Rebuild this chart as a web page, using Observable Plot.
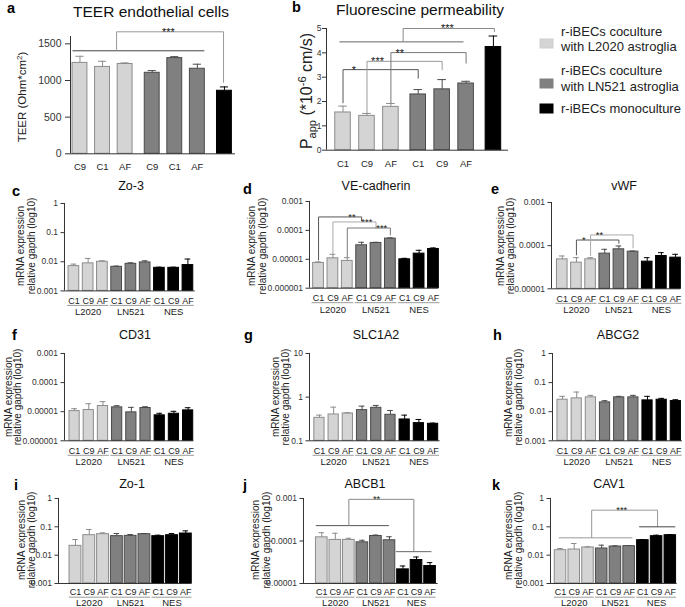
<!DOCTYPE html>
<html><head><meta charset="utf-8">
<script src="https://cdn.jsdelivr.net/npm/d3@7"></script>
<script src="https://cdn.jsdelivr.net/npm/@observablehq/plot@0.6"></script>
<style>
body{margin:0;background:#fff;}
#fig{position:relative;width:685px;height:607px;overflow:hidden;background:#fff;}
</style></head><body><div id="fig"></div>
<script>
// ---------- DATA ----------
// Panel a: TEER
const teerLabels = ["C9","C1","AF","C9","C1","AF",""];
const teerGroups = [0,0,0,1,1,1,2];
const teerMean = [1240,1185,1225,1105,1305,1160,860];
const teerSem  = [90,77,15,30,20,62,52];
// Panel b: permeability
const permLabels = ["C1","C9","AF","C1","C9","AF",""];
const permGroups = [0,0,0,1,1,1,2];
const permMean = [1.55,1.41,1.78,2.29,2.50,2.74,4.24];
const permSem  = [0.26,0.10,0.14,0.20,0.40,0.09,0.45];
// mRNA panels
const cellLines = ["C1","C9","AF"];
const conditions = ["L2020","LN521","NES"];
const zo3Mean = [0.0071,0.0088,0.0100,0.0067,0.0085,0.0095,0.0062,0.0062,0.0077];
const zo3Sem  = [0.0012,0.0042,0.0008,0.0004,0.0007,0.0013,0.0003,0.0003,0.0047];
const vecadMean = [7.5e-6,1.08e-5,8.8e-6,3.05e-5,3.67e-5,5.2e-5,1.0e-5,1.57e-5,2.28e-5];
const vecadSem  = [0.6e-6,4.1e-6,2.6e-6,8.2e-6,2.0e-6,3.0e-6,0.8e-6,4.8e-6,1.9e-6];
const vwfMean = [4.82e-5,4.04e-5,4.82e-5,6.53e-5,8.23e-5,7.26e-5,4.26e-5,5.76e-5,5.27e-5];
const vwfSem  = [9.4e-6,1.23e-5,4.5e-6,1.7e-5,1.57e-5,2.4e-6,1.01e-5,1.12e-5,1.03e-5];
const cd31Mean = [1.05e-5,1.14e-5,1.57e-5,1.41e-5,9.5e-6,1.34e-5,7.5e-6,8.5e-6,1.11e-5];
const cd31Sem  = [2.2e-6,7.4e-6,6.4e-6,2.0e-6,4.6e-6,1.4e-6,1.3e-6,1.8e-6,2.6e-6];
const slcMean = [0.336,0.401,0.423,0.504,0.57,0.394,0.308,0.254,0.245];
const slcSem  = [0.051,0.189,0.015,0.118,0.075,0.101,0.079,0.054,0.009];
const abcg2Mean = [0.0258,0.0287,0.0311,0.0209,0.0311,0.0311,0.0245,0.0258,0.0232];
const abcg2Sem  = [0.0079,0.0186,0.0053,0.0030,0.0026,0.0053,0.0092,0.0029,0.0026];
const zo1Mean = [0.0213,0.0507,0.055,0.0468,0.048,0.055,0.0468,0.0507,0.058];
const zo1Sem  = [0.0144,0.0299,0.0064,0.0112,0.0055,0.003,0.0039,0.0073,0.014];
const abcb1Mean = [1.22e-4,1.06e-4,1.06e-4,9.3e-5,1.31e-4,1.04e-4,2.15e-5,3.57e-5,2.58e-5];
const abcb1Sem  = [3.5e-5,4.6e-5,1.0e-5,1.1e-5,7e-6,2.2e-5,4.3e-6,6.3e-6,5.2e-6];
const cav1Mean = [0.015,0.0158,0.0187,0.0172,0.0202,0.0208,0.0338,0.0468,0.0507];
const cav1Sem  = [0.0022,0.01,0.001,0.0053,0.0011,0.0011,0.0019,0.0039,0.0028];
const legendLabels = [["r-iBECs coculture","with L2020 astroglia"],["r-iBECs coculture","with LN521 astroglia"],["r-iBECs monoculture"]];

// significance annotations (data units: bar position, value)
const permPairs = [
  {a:0,b:3.14,y:3.31,endA:1.93,endB:2.94,star:"*",starX:0.45,color:"#555"},
  {a:1,b:4.14,y:3.65,endA:1.52,endB:3.29,star:"***",starX:1.44,color:"#9a9a9a"},
  {a:2,b:5.14,y:4.01,endA:1.93,endB:3.56,star:"**",starX:2.37,color:"#777"}];
const vecadPairs = [
  {a:0,b:3,y:2.92e-4,endA:9.2e-6,endB:2.07e-4,star:"**",starX:2.32,color:"#555"},
  {a:1,b:4,y:1.96e-4,endA:1.57e-5,endB:1.15e-4,star:"***",starX:3.36,color:"#aaa"},
  {a:2,b:5,y:1.21e-4,endA:1.2e-5,endB:6.76e-5,star:"***",starX:4.4,color:"#777"}];
const vwfPairs = [
  {a:1,b:4,y:1.35e-4,endA:5.97e-5,endB:1.11e-4,star:"*",starX:1.53,color:"#555"},
  {a:2,b:5,y:1.77e-4,endA:5.76e-5,endB:8.67e-5,star:"**",starX:2.63,color:"#aaa"}];
const teerGroupSig = [{lineA:[-0.33,5.51,1405],legA:1.62,top:1664,legB:6.36,endB:969,star:"***",starX:3.92,colorA:"#444",color:"#999"}];
const permGroupSig = [{lineA:[-0.15,5.03,4.45],legA:2.51,top:5.0,legB:6.32,endB:4.86,star:"***",starX:4.36,colorA:"#666",color:"#888"}];
const abcb1GroupSig = [{lineA:[-0.44,4.96,2.3e-4],legA:2.0,top:9.55e-4,legB:6.8,lineB:[5.47,8.1,5.61e-5],star:"**",starX:4.05,colorA:"#555",color:"#888",colorB:"#666"}];
const cav1GroupSig = [{lineA:[-0.12,5.24,0.0409],legA:2.27,top:0.387,legB:7.07,lineB:[5.73,8.36,0.1],star:"***",starX:4.46,colorA:"#999",color:"#999",colorB:"#444"}];

// ---------- STYLE ----------
const FONT = '"Liberation Sans", Arial, Helvetica, sans-serif';
const fills = ["#d4d4d4","#808080","#000000"];
const strokes = ["#8c8c8c","#4a4a4a","#000000"];
const axisColor = "#333";
const fig = document.getElementById("fig");

function simpleSegs(b){return [
  {x1:b.a,y1:b.endA,x2:b.a,y2:b.y,c:b.color},
  {x1:b.a,y1:b.y,x2:b.b,y2:b.y,c:b.color},
  {x1:b.b,y1:b.y,x2:b.b,y2:b.endB,c:b.color}];}
function groupSegs(g){
  const s=[{x1:g.lineA[0],x2:g.lineA[1],y1:g.lineA[2],y2:g.lineA[2],c:g.colorA},
    {x1:g.legA,x2:g.legA,y1:g.lineA[2],y2:g.top,c:g.color},
    {x1:g.legA,x2:g.legB,y1:g.top,y2:g.top,c:g.color}];
  if(g.lineB){s.push({x1:g.legB,x2:g.legB,y1:g.top,y2:g.lineB[2],c:g.color});
    s.push({x1:g.lineB[0],x2:g.lineB[1],y1:g.lineB[2],y2:g.lineB[2],c:g.colorB});}
  else s.push({x1:g.legB,x2:g.legB,y1:g.top,y2:g.endB,c:g.color});
  return s;}

function logFmt(v){ if(v>=1) return String(v); return v.toFixed(Math.round(-Math.log10(v))); }

function panel(cfg){
  const g=cfg.geom, ml=cfg.ml, mr=6, mt=cfg.mt, mb=cfg.mb;
  const width=g.fRight-g.fx+ml+mr, height=g.fBottom-g.fTop+mt+mb;
  const rows=cfg.rows, y0=cfg.yDomain[0], bw=cfg.barW, cw=cfg.capW;
  const segs=[...(cfg.pairs||[]).flatMap(simpleSegs),...(cfg.groupSig||[]).flatMap(groupSegs)];
  const stars=[...(cfg.pairs||[]).map(b=>({x:b.starX,y:b.y,t:b.star})),...(cfg.groupSig||[]).map(b=>({x:b.starX,y:b.top,t:b.star}))];
  const marks=[
    Plot.rect(rows,{x1:d=>d.pos-bw/2,x2:d=>d.pos+bw/2,y1:y0,y2:"mean",fill:d=>fills[d.group],stroke:d=>strokes[d.group],strokeWidth:1}),
    Plot.ruleX(rows,{x:"pos",y1:"mean",y2:d=>d.mean+d.sem,stroke:d=>strokes[d.group],strokeWidth:1}),
    Plot.ruleY(rows,{x1:d=>d.pos-cw/2,x2:d=>d.pos+cw/2,y:d=>d.mean+d.sem,stroke:d=>strokes[d.group],strokeWidth:1}),
    Plot.ruleX([cfg.xDomain[0]],{stroke:axisColor,strokeWidth:1}),
    Plot.ruleY([y0],{stroke:axisColor,strokeWidth:1}),
    Plot.text(rows.filter(d=>d.label),{x:"pos",text:"label",frameAnchor:"bottom",lineAnchor:"bottom",dy:cfg.xLabDy,fontSize:cfg.xLabSize,fill:"#222"}),
    Plot.link(segs,{x1:"x1",y1:"y1",x2:"x2",y2:"y2",stroke:"c",strokeWidth:1}),
    Plot.text(stars,{x:"x",y:"y",text:"t",lineAnchor:"bottom",dy:cfg.starDy,fontSize:cfg.starSize,fill:"#222"})
  ];
  if(cfg.groups){
    marks.push(Plot.ruleY(cfg.groups,{x1:"x1",x2:"x2",y:y0,dy:cfg.ulDy,stroke:"#9a9a9a",strokeWidth:1}));
    marks.push(Plot.text(cfg.groups,{x:"mid",text:"name",frameAnchor:"bottom",lineAnchor:"bottom",dy:cfg.grpDy,fontSize:cfg.grpSize,fill:"#222"}));
  }
  const svg=Plot.plot({
    width,height,marginLeft:ml,marginRight:mr,marginTop:mt,marginBottom:mb,
    x:{domain:cfg.xDomain,axis:null},
    y:{type:cfg.yType,domain:cfg.yDomain,ticks:cfg.yTicks,tickFormat:cfg.yFmt,tickSize:cfg.tickSize,tickPadding:cfg.tickPad,label:null,grid:false},
    color:{type:"identity"},
    style:{background:"transparent",fontSize:cfg.yTickSize+"px",fontFamily:FONT,color:axisColor,overflow:"visible"},
    marks
  });
  svg.style.position="absolute";
  svg.style.left=(g.fx-ml)+"px";
  svg.style.top=(g.fTop-mt)+"px";
  fig.appendChild(svg);
}

function rowsAB(mean,sem,labels,groups,gap){
  return mean.map((m,i)=>({mean:m,sem:sem[i],label:labels[i],group:groups[i],pos:i+gap*groups[i]}));
}
function rowsM(mean,sem){
  return mean.map((m,i)=>({mean:m,sem:sem[i],label:cellLines[i%3],group:Math.floor(i/3),pos:i}));
}
const mGroups = conditions.map((c,k)=>({name:c,x1:3*k-0.45,x2:3*k+2.45,mid:3*k+1}));

// Panel a
panel({rows:rowsAB(teerMean,teerSem,teerLabels,teerGroups,0.2),geom:{fx:70,fTop:35.7,fBottom:153,fRight:235},
  ml:48,mt:34,mb:22,xDomain:[-0.42,6.89],yType:"linear",yDomain:[0,1600],yTicks:[0,500,1000,1500],yFmt:d=>String(d),
  tickSize:5,tickPad:4,yTickSize:10.5,barW:0.66,capW:0.36,xLabDy:16,xLabSize:9.5,groupSig:teerGroupSig,starDy:4,starSize:11});
// Panel b
panel({rows:rowsAB(permMean,permSem,permLabels,permGroups,0.14),geom:{fx:326,fTop:28.3,fBottom:150,fRight:508},
  ml:20,mt:26,mb:22,xDomain:[-0.69,6.91],yType:"linear",yDomain:[0,5],yTicks:[0,1,2,3,4,5],yFmt:d=>String(d),
  tickSize:4,tickPad:1,yTickSize:8.5,barW:0.65,capW:0.36,xLabDy:17,xLabSize:9.5,pairs:permPairs,groupSig:permGroupSig,starDy:4,starSize:11});

const mBase={ml:44,mt:16,mb:30,yType:"log",tickSize:3.5,tickPad:3,yTickSize:8.5,capW:0.4,xLabDy:13,xLabSize:9,grpSize:9.5,ulDy:14.5,grpDy:24.5,starDy:3,starSize:9.5,groups:mGroups,yFmt:logFmt};
const dec=(a,b)=>d3.range(a,b+1).map(e=>Math.pow(10,e));
// c-k
panel({...mBase,rows:rowsM(zo3Mean,zo3Sem),geom:{fx:64.3,fTop:203.3,fBottom:290.7,fRight:195},xDomain:[-0.66,8.51],yDomain:[0.001,1],yTicks:dec(-3,0),barW:0.75});
panel({...mBase,rows:rowsM(vecadMean,vecadSem),geom:{fx:309.3,fTop:201.3,fBottom:288,fRight:438.3},xDomain:[-0.63,8.35],yDomain:[1e-6,1e-3],yTicks:dec(-6,-3),barW:0.75,pairs:vecadPairs});
panel({...mBase,rows:rowsM(vwfMean,vwfSem),geom:{fx:551,fTop:201.7,fBottom:288,fRight:680},xDomain:[-0.76,8.35],yDomain:[1e-5,1e-3],yTicks:dec(-5,-3),barW:0.75,pairs:vwfPairs});
panel({...mBase,rows:rowsM(cd31Mean,cd31Sem),geom:{fx:64,fTop:352.7,fBottom:440,fRight:193.3},xDomain:[-0.71,8.4],yDomain:[1e-6,1e-3],yTicks:dec(-6,-3),barW:0.72});
panel({...mBase,rows:rowsM(slcMean,slcSem),geom:{fx:309.3,fTop:352.7,fBottom:440,fRight:440},xDomain:[-0.7,8.5],yDomain:[0.1,10],yTicks:dec(-1,1),barW:0.72});
panel({...mBase,rows:rowsM(abcg2Mean,abcg2Sem),geom:{fx:551.7,fTop:352.7,fBottom:440,fRight:681.7},xDomain:[-0.71,8.47],yDomain:[0.001,1],yTicks:dec(-3,0),barW:0.72});
panel({...mBase,rows:rowsM(zo1Mean,zo1Sem),geom:{fx:58.3,fTop:498.3,fBottom:583.3,fRight:191.7},xDomain:[-1.23,8.44],yDomain:[0.001,1],yTicks:dec(-3,0),barW:0.86,xLabDy:12,ulDy:13.7,grpDy:22.7});
panel({...mBase,rows:rowsM(abcb1Mean,abcb1Sem),geom:{fx:303.3,fTop:498.3,fBottom:583.3,fRight:438},xDomain:[-1.35,8.6],yDomain:[1e-5,1e-3],yTicks:dec(-5,-3),barW:0.86,xLabDy:12,ulDy:13.7,grpDy:22.7,groupSig:abcb1GroupSig});
panel({...mBase,rows:rowsM(cav1Mean,cav1Sem),geom:{fx:550,fTop:498.3,fBottom:583.3,fRight:676.7},xDomain:[-0.73,8.5],yDomain:[0.001,1],yTicks:dec(-3,0),barW:0.84,xLabDy:12,ulDy:13.7,grpDy:22.7,groupSig:cav1GroupSig});

// ---------- TEXT OVERLAY ----------
const ov=d3.select(fig).append("svg").attr("width",685).attr("height",607)
  .style("position","absolute").style("left","0px").style("top","0px").style("font-family",FONT);
function txt(x,y,s,o={}){
  const t=ov.append("text").attr("x",x).attr("y",y).attr("font-size",o.size||12).attr("fill",o.fill||"#111");
  if(s!=null) t.text(s);
  if(o.anchor) t.attr("text-anchor",o.anchor);
  if(o.weight) t.attr("font-weight",o.weight);
  if(o.rot) t.attr("transform",`rotate(-90 ${x} ${y})`);
  return t;
}
const letters=[["a",7,13],["b",292,12],["c",12,196],["d",243,194],["e",491,194],["f",12,340],["g",244,340],["h",493,340],["i",14,490],["j",243,490],["k",492,490]];
letters.forEach(([s,x,y])=>txt(x,y,s,{size:14.5,weight:"bold",fill:"#000"}));
const titles=[["TEER endothelial cells",151,17,15.5],["Fluorescine permeability",420,15,15.5],
  ["Zo-3",131,190,12.5],["VE-cadherin",376,190,12.5],["vWF",624,190,12.5],
  ["CD31",135,339,12.5],["SLC1A2",376,339,12.5],["ABCG2",618,339,12.5],
  ["Zo-1",132,488,12.5],["ABCB1",365,488,12.5],["CAV1",609,488,12.5]];
titles.forEach(([s,x,y,f])=>txt(x,y,s,{size:f,anchor:"middle",fill:"#111"}));
// mRNA y labels
const ylabs=[[20.7,31,246],[251.7,262,246],[500,510.7,246],[8,17.5,397],[275.5,285.5,397],[508,518.5,397],[21,31,540],[255.7,266.5,540],[508,518,540]];
ylabs.forEach(([x1,x2,cy])=>{
  txt(x1+3.5,cy,"mRNA expression",{size:10,anchor:"middle",rot:true,fill:"#222"});
  txt(x2+3.5,cy,"relative gapdh (log10)",{size:10,anchor:"middle",rot:true,fill:"#222"});
});
// panel a y label
const ta=txt(22+4,97,null,{size:11.5,anchor:"middle",rot:true,fill:"#222"});
ta.append("tspan").text("TEER (Ohm*cm");
ta.append("tspan").attr("dy",-4).attr("font-size",8).text("2");
ta.append("tspan").attr("dy",4).text(")");
// panel b y label
const tb=txt(312,91,null,{size:16,anchor:"middle",rot:true,fill:"#222"});
tb.append("tspan").text("P");
tb.append("tspan").attr("dy",4).attr("font-size",11).text("app");
tb.append("tspan").attr("dy",-4).text(" (*10");
tb.append("tspan").attr("dy",-6).attr("font-size",11).text("-6");
tb.append("tspan").attr("dy",6).text(" cm/s)");
// legend
const legY=[[39,[36,50.5]],[79,[75,91]],[104,[113]]];
legY.forEach(([ry,lines],k)=>{
  ov.append("rect").attr("x",540).attr("y",ry).attr("width",13).attr("height",9).attr("fill",fills[k]).attr("stroke",k==0?"#cfcfcf":fills[k]);
  lines.forEach((ly,j)=>txt(561,ly,legendLabels[k][j],{size:13,fill:"#222"}));
});
</script></body></html>
